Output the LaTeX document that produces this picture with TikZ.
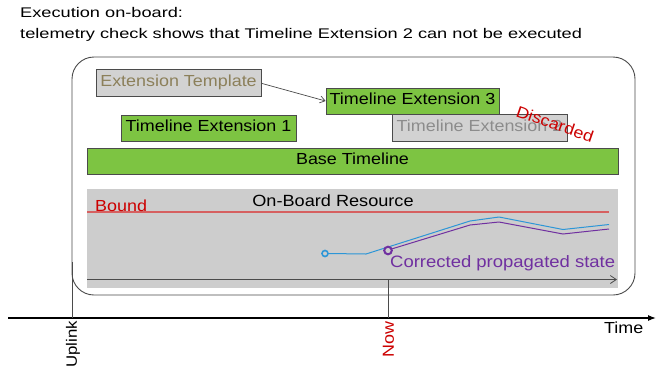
\documentclass[tikz,border=0pt]{standalone}
\usepackage{fontspec}
\setmainfont[FakeStretch=1.12]{Liberation Sans}
\newfontfamily\headfont[FakeStretch=1.3]{Liberation Sans}
\usetikzlibrary{arrows.meta}

\definecolor{barfill}{RGB}{125,196,66}
\definecolor{greyfill}{RGB}{210,210,210}
\definecolor{panelfill}{RGB}{205,205,205}
\definecolor{edge}{RGB}{75,75,75}
\definecolor{alert}{RGB}{204,0,0}
\definecolor{boundline}{RGB}{214,96,96}
\definecolor{planned}{RGB}{45,150,215}
\definecolor{corrected}{RGB}{112,48,160}
\definecolor{templ}{RGB}{140,128,90}
\definecolor{faded}{RGB}{140,140,140}

\begin{document}
\begin{tikzpicture}[x=1pt,y=-1pt,
  bar/.style={draw=edge, line width=0.8pt, fill=barfill, inner sep=0pt,
    text height=0.72em, text depth=0pt, font=\fontsize{16}{18}\selectfont},
  greybar/.style={bar, fill=greyfill},
  lbl/.style={inner sep=0pt, font=\fontsize{16}{18}\selectfont},
  head/.style={inner sep=0pt, anchor=base west, font=\headfont\fontsize{14}{16}\selectfont},
]
\useasboundingbox (0,0) rectangle (663,368);

% heading
\node[head] (title1) at (20,17.3) {Execution on-board:};
\node[head] (title2) at (20,38.5) {telemetry check shows that Timeline Extension 2 can not be executed};

% on-board frame
\node[draw=edge, line width=0.9pt, rounded corners=22pt, inner sep=0pt,
      minimum width=563, minimum height=238] (frame) at (353.5,176) {};

% timeline bars
\node[greybar, text=templ, minimum width=165, minimum height=27] (tmpl) at (178.5,83.3) {Extension Template};
\node[bar, minimum width=173, minimum height=26] (ext3) at (412.5,101) {Timeline Extension 3};
\node[bar, minimum width=175, minimum height=26] (ext1) at (208.5,128) {Timeline Extension 1};
\node[greybar, text=faded, minimum width=175, minimum height=27] (ext2) at (479.5,127.5) {Timeline Extension 2};
\node[bar, minimum width=531, minimum height=26] (base) at (352.5,161) {Base Timeline};
\node[lbl, text=alert, rotate=-19] (disc) at (555,124) {Discarded};

\draw[edge, line width=0.7pt, -{Straight Barb[length=5pt,width=7pt]}] (tmpl.east) -- (ext3.west);

% resource panel
\node[fill=panelfill, inner sep=0pt, minimum width=531, minimum height=99] (panel) at (352.5,238.5) {};
\draw[boundline, line width=1.2pt] (87,212) -- (609,212);
\node[lbl, text=alert, anchor=base west] (bound) at (95,211) {Bound};
\node[lbl, anchor=base, font=\fontsize{16.2}{18}\selectfont] (res) at (333,206.5) {On-Board Resource};

\coordinate (iax0) at (87,279.5);
\coordinate (iax1) at (617,279.5);
\draw[edge, line width=0.8pt, -{Straight Barb[length=6pt,width=8pt]}] (iax0) -- (iax1);

% planned and corrected resource profiles
\draw[planned, line width=1pt] (328,253.5) -- (366,254) -- (470,221) -- (499,217) -- (563,229.5) -- (609,224.5);
\draw[planned, line width=1.6pt] (325,253.5) circle (3);
\draw[corrected, line width=1pt] (391.5,249) -- (470,225) -- (499,222) -- (563,234) -- (609,229);
\draw[corrected, line width=2pt] (388,250.5) circle (3.8);
\node[lbl, text=corrected, anchor=base west, font=\fontsize{16.5}{18}\selectfont] (corr) at (390,267) {Corrected propagated state};

% time axis
\coordinate (t0) at (8,318);
\coordinate (t1) at (656,318);
\draw[black, line width=1.2pt, -{Latex[length=8pt,width=6pt]}] (t0) -- (t1);
\node[lbl, anchor=base west] (time) at (604,333) {Time};

\coordinate (up0) at (72.5,262);
\coordinate (up1) at (72.5,318);
\draw[edge, line width=0.8pt] (up0) -- (up1);
\node[lbl, rotate=90, anchor=east, font=\fontsize{15}{17}\selectfont] (uplink) at (73,321) {Uplink};

\coordinate (now0) at (388.5,279.5);
\coordinate (now1) at (388.5,318);
\draw[edge, line width=0.8pt] (now0) -- (now1);
\node[lbl, rotate=90, anchor=east, text=alert] (now) at (388.5,321) {Now};
\end{tikzpicture}
\end{document}
